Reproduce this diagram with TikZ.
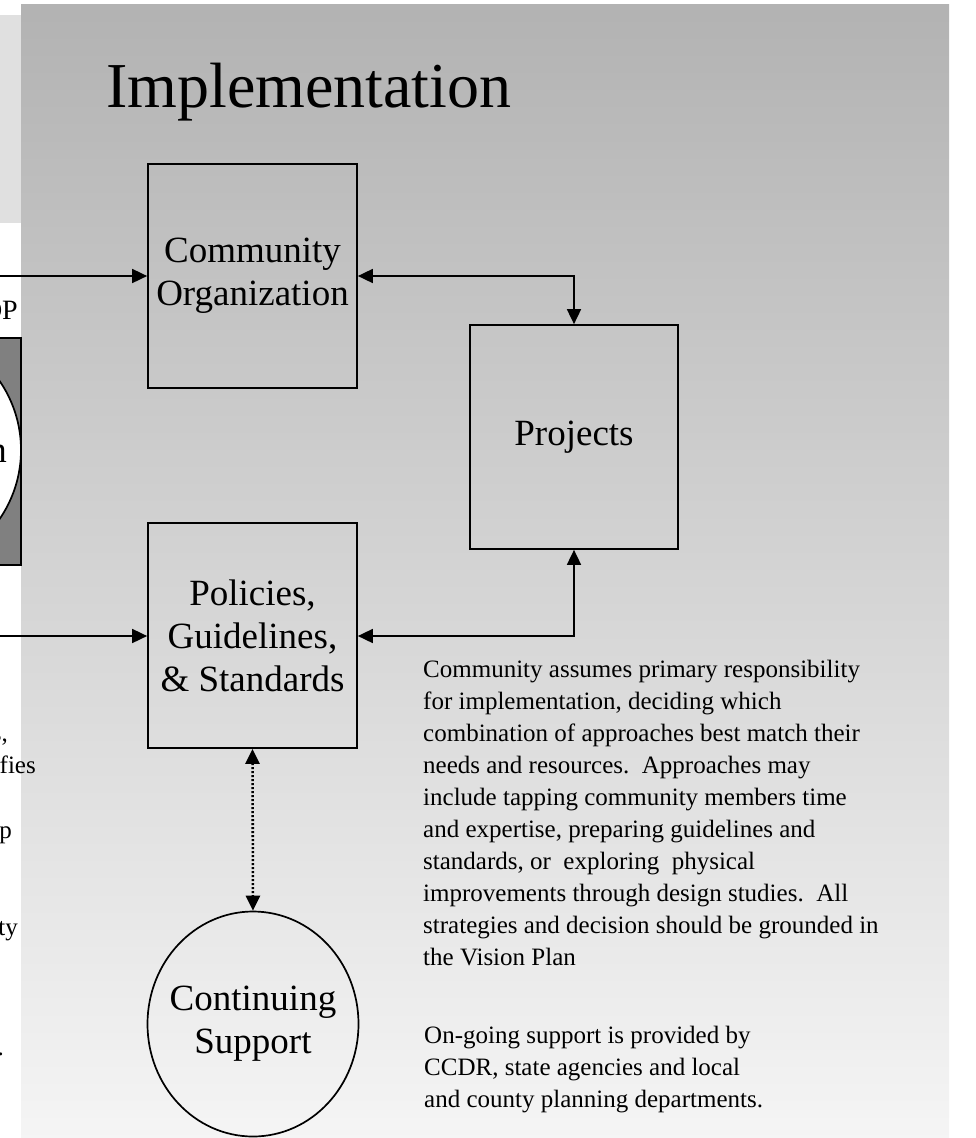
\documentclass[tikz,border=0pt]{standalone}
\usepackage{fontspec}
\setmainfont{Liberation Serif}
\usetikzlibrary{arrows.meta,shapes.geometric}
\tikzset{
  stagebox/.style={draw, line width=0.6mm, rectangle, minimum width=209pt, minimum height=224pt,
    inner sep=1pt, align=center, font=\fontsize{37}{43}\selectfont},
  supportring/.style={draw, line width=0.6mm, ellipse, minimum width=211pt, minimum height=225pt, inner sep=0pt},
  biglabel/.style={inner sep=0pt, align=center, font=\fontsize{37}{43}\selectfont},
  bodytext/.style={inner sep=0pt, align=left, anchor=north west, font=\fontsize{25}{32}\selectfont},
  cuttext/.style={inner sep=0pt, anchor=base east, font=\fontsize{25}{32}\selectfont},
  link/.style={line width=0.6mm},
}
\begin{document}
\begin{tikzpicture}[x=1pt, y=-1pt, >={Triangle[length=15pt,width=14pt]}]
		%%%%% START %%%%%
		\useasboundingbox (0, 0) rectangle (976, 1138);

		% backdrop
		\fill[black!12] (-20, 15) rectangle (60, 223);
		\shade[top color=black!30, bottom color=black!4] (21, 4) rectangle (949, 1140);

		% cut-off stage on the left
		\draw[line width=0.6mm, fill=black!50] (-60, 338) rectangle (21, 565);
		\draw[line width=0.6mm, fill=white] (-101, 450) circle (122);
		\node[biglabel, anchor=base east] (vcut) at (7, 462) {n};
		\node[inner sep=0pt, anchor=base east, font=\fontsize{28}{32}\selectfont] (dpcut) at (18, 319) {DP};
		\node[cuttext] (cutA) at (8, 741) {s,};
		\node[cuttext] (cutB) at (36, 773) {fies};
		\node[cuttext] (cutC) at (12, 838) {p};
		\node[cuttext] (cutD) at (18, 935) {ty};
		\node[cuttext] (cutE) at (4, 1055) {.};

		% title
		\node[inner sep=0pt, anchor=base west, font=\fontsize{64}{70}\selectfont] (title) at (106, 107) {Implementation};

		% stages
		\node[stagebox] (comorg) at (252.5, 276) {Community\\Organization};
		\node[stagebox, minimum width=208pt] (proj) at (574, 437) {Projects};
		\node[stagebox, minimum height=225pt] (policy) at (252.5, 635.5) {Policies,\\Guidelines,\\\& Standards};
		\node[supportring] (support) at (253, 1024) {};
		\node[biglabel] (supporttxt) at (support.center) {Continuing\\Support};

		% connectors
		\coordinate (inA) at (-5, 276);
		\coordinate (inB) at (-5, 636);
		\draw[link, ->] (inA) -- (comorg.west);
		\draw[link, ->] (inB) -- (policy.west |- inB);
		\draw[link, <->] (comorg.east) -| (proj.north);
		\draw[link, <->] (policy.east |- inB) -| (proj.south);
		\draw[link, <->, line width=0.9mm, dash pattern=on 2pt off 2pt] (policy.south) -- (support.north);

		% notes
		\node[bodytext] (notea) at (423, 660) {Community assumes primary responsibility\\
			for implementation, deciding which\\
			combination of approaches best match their\\
			needs and resources.\ \ Approaches may\\
			include tapping community members time\\
			and expertise, preparing guidelines and\\
			standards, or\ \ exploring\ \ physical\\
			improvements through design studies.\ \ All\\
			strategies and decision should be grounded in\\
			the Vision Plan};
		\node[bodytext] (noteb) at (424, 1026) {On-going support is provided by\\
			CCDR, state agencies and local\\
			and county planning departments.};
		%%%%% END %%%%%
\end{tikzpicture}
\end{document}
